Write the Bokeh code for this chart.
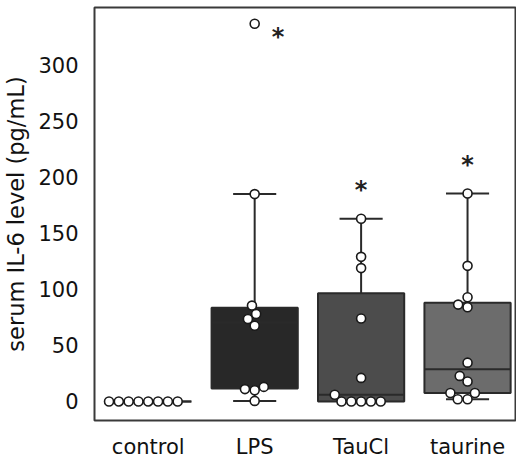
import numpy as np
from bokeh.plotting import figure
from bokeh.models import Range1d, FixedTicker
from bokeh.embed import file_html
from bokeh.resources import INLINE
from bokeh.core.properties import value

# ---------------- data ----------------
categories = ["control", "LPS", "TauCl", "taurine"]
box_colors = ["#8c8c8c", "#282828", "#4c4c4c", "#6c6c6c"]

control_vals = [0, 0, 0, 0, 0, 0, 0, 0]
lps_vals = [0.5, 10, 11, 13, 67.5, 73.5, 78, 85.5, 185, 337]
taucl_vals = [0, 0, 0, 0, 0, 6, 21, 74, 119, 129, 163]
taurine_vals = [2, 2, 7.5, 7.5, 17.8, 22.8, 34.6, 84, 86.4, 93, 121, 185.5]
groups = [control_vals, lps_vals, taucl_vals, taurine_vals]

sig_labels = ["*", "*", "*"]
sig_groups = [1, 2, 3]
sig_x_shift = [0.22, 0.0, 0.0]
sig_y = [325, 189, 211]

y_ticks = [0, 50, 100, 150, 200, 250, 300]
y_label = "serum IL-6 level (pg/mL)"

# ---------------- layout ----------------
W, H = 516, 461
BL, BR, BT, BB = 94, 0, 7, 39
X0, X1 = -0.505, 3.46
Y0, Y1 = -17, 351.5
fw = W - BL - BR
fh = H - BT - BB
sx = fw / (X1 - X0)
sy = fh / (Y1 - Y0)
BOX_W = 0.81
CAP_W = 0.405
R = 4.67  # swarm radius in px


def beeswarm(vals, r):
    ys = np.asarray(vals, float) * sy
    order = np.argsort(ys, kind="stable")
    placed = []
    xs = np.zeros(len(ys))
    for idx in order:
        y = ys[idx]
        if not placed:
            placed.append((0.0, y))
            xs[idx] = 0.0
            continue
        neigh = [(px, py) for px, py in placed if abs(py - y) <= 2 * r]
        cands = [0.0]
        left_first = True
        for px, py in neigh:
            dy = y - py
            dx = np.sqrt(max((2 * r) ** 2 - dy ** 2, 0)) * 1.05
            if left_first:
                cands += [px - dx, px + dx]
            else:
                cands += [px + dx, px - dx]
            left_first = not left_first
        cands = sorted(cands, key=abs)
        chosen = cands[-1]
        for c in cands:
            if all((c - px) ** 2 + (y - py) ** 2 >= (2 * r) ** 2 - 1e-9 for px, py in neigh):
                chosen = c
                break
        placed.append((chosen, y))
        xs[idx] = chosen
    return xs / sx


# box statistics from data
q1, med, q3, wlo, whi = [], [], [], [], []
fly_x, fly_y = [], []
for i, g in enumerate(groups):
    a = np.asarray(g, float)
    a1, a2, a3 = np.percentile(a, [25, 50, 75])
    iqr = a3 - a1
    inside = a[(a >= a1 - 1.5 * iqr) & (a <= a3 + 1.5 * iqr)]
    q1.append(a1); med.append(a2); q3.append(a3)
    wlo.append(inside.min()); whi.append(inside.max())
    for v in a[(a < a1 - 1.5 * iqr) | (a > a3 + 1.5 * iqr)]:
        fly_x.append(i); fly_y.append(v)

pos = list(range(len(categories)))

p = figure(width=W, height=H, output_backend="svg", toolbar_location=None,
           x_range=Range1d(X0, X1), y_range=Range1d(Y0, Y1),
           min_border_left=BL, min_border_right=BR, min_border_top=BT,
           min_border_bottom=BB)
p.grid.visible = False
p.outline_line_color = "#3a3a3a"
p.outline_line_width = 2
p.background_fill_color = "white"
p.border_fill_color = "white"

lc = "#2a2a2a"
# whiskers
p.segment(x0=pos, y0=q3, x1=pos, y1=whi, line_color=lc, line_width=2)
p.segment(x0=pos, y0=q1, x1=pos, y1=wlo, line_color=lc, line_width=2)
p.segment(x0=[x - CAP_W / 2 for x in pos], y0=whi, x1=[x + CAP_W / 2 for x in pos], y1=whi,
          line_color=lc, line_width=2)
p.segment(x0=[x - CAP_W / 2 for x in pos], y0=wlo, x1=[x + CAP_W / 2 for x in pos], y1=wlo,
          line_color=lc, line_width=2)
# boxes
p.vbar(x=pos, width=BOX_W, bottom=q1, top=q3, fill_color=box_colors,
       line_color=lc, line_width=2)
# medians
p.segment(x0=[x - BOX_W / 2 for x in pos], y0=med, x1=[x + BOX_W / 2 for x in pos], y1=med,
          line_color=lc, line_width=2)
# fliers
p.scatter(x=fly_x, y=fly_y, marker="diamond", size=9, fill_color=lc, line_color=lc)

# swarm points
px_all, py_all = [], []
for i, g in enumerate(groups):
    off = beeswarm(g, R)
    px_all += list(i + off)
    py_all += list(g)
p.scatter(x=px_all, y=py_all, size=9, fill_color="white", line_color="#1a1a1a", line_width=1.6)

# significance marks
p.text(x=[g + s for g, s in zip(sig_groups, sig_x_shift)], y=sig_y, text=sig_labels,
       text_font=value("DejaVu Sans"), text_font_size="24px", text_color="#222222",
       text_font_style="bold", text_align="center", text_baseline="middle")

# axes
p.xaxis.ticker = FixedTicker(ticks=pos)
p.xaxis.major_label_overrides = {i: c for i, c in enumerate(categories)}
p.yaxis.ticker = FixedTicker(ticks=y_ticks)
for ax in (p.xaxis, p.yaxis):
    ax.axis_line_color = None
    ax.major_tick_line_color = None
    ax.minor_tick_line_color = None
    ax.major_tick_out = 0
    ax.major_tick_in = 0
    ax.minor_tick_out = 0
    ax.minor_tick_in = 0
    ax.major_label_text_font = "DejaVu Sans"
    ax.major_label_text_font_size = "21px"
    ax.major_label_text_color = "#111111"
p.xaxis.major_label_standoff = 14
p.yaxis.major_label_standoff = 16
p.yaxis.axis_label = y_label
p.yaxis.axis_label_text_font = "DejaVu Sans"
p.yaxis.axis_label_text_font_size = "22.5px"
p.yaxis.axis_label_text_font_style = "normal"
p.yaxis.axis_label_text_color = "#111111"
p.yaxis.axis_label_standoff = 6

open("out.html", "w").write(file_html(p, INLINE))
